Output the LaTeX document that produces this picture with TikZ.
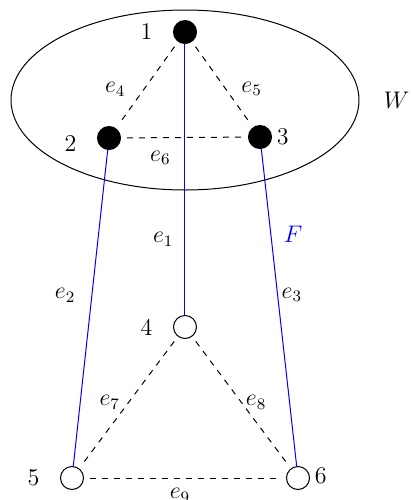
\documentclass[tikz,border=0pt]{standalone}
\usepackage{amsmath,amssymb}
\usepackage{xcolor}
\usepackage{tikz}
\usetikzlibrary{arrows.meta,positioning,calc,shapes.geometric}

\begin{document}
\begin{tikzpicture}[x=0.5pt,y=-0.5pt,line width=0.5pt,
 every node/.style={font=\fontsize{12}{14}\selectfont},
 fullv/.style={circle,draw,fill=black,minimum size=11.5pt,inner sep=0pt},
 openv/.style={circle,draw,fill=white,minimum size=11.5pt,inner sep=0pt},
 vlbl/.style={inner sep=1pt},
 elbl/.style={inner sep=1pt,text=black},
 dsh/.style={dashed,shorten <=3pt,shorten >=3pt},
 blu/.style={draw=blue}]
\useasboundingbox (0,0) rectangle (411,500);
\node[draw,ellipse,minimum width=174pt,minimum height=90pt,inner sep=0pt] (wset) at (185,100) {};
\node[vlbl,right=11pt of wset] (wlbl) {$W$};
\node[fullv] (v1) at (185,32) {};
\node[fullv] (v2) at (109,138) {};
\node[fullv] (v3) at (260,137) {};
\node[openv] (v4) at (185,327) {};
\node[openv] (v5) at (72,478) {};
\node[openv] (v6) at (298,478) {};
\node[vlbl,left=9pt of v1] (l1) {1};
\node[vlbl,left=9pt of v2,yshift=-3pt] (l2) {2};
\node[vlbl,right=1.2pt of v3] (l3) {3};
\node[vlbl,left=9pt of v4] (l4) {4};
\node[vlbl,left=9pt of v5] (l5) {5};
\node[vlbl,right=1.2pt of v6,yshift=1pt] (l6) {6};
\draw[dsh] (v1)--(v2) node[elbl,pos=.55,left=8pt] {$e_4$};
\draw[dsh] (v1)--(v3) node[elbl,pos=.55,right=6.7pt] {$e_5$};
\draw[dsh] (v2)--(v3) node[elbl,pos=.31,below=5.4pt] {$e_6$};
\draw[blu] (v1)--(v4) node[elbl,pos=.72,left=4.5pt] {$e_1$};
\draw[blu] (v2)--(v5) node[elbl,pos=.46,left=7pt] {$e_2$};
\draw[blu] (v3)--(v6) node[elbl,pos=.46,right=0.8pt] {$e_3$}
 node[elbl,pos=.27,right=5.2pt,text=blue] {$F$};
\draw[dsh] (v4)--(v5) node[elbl,midway,left=3pt] {$e_7$};
\draw[dsh] (v4)--(v6) node[elbl,midway,right=1pt] {$e_8$};
\draw[dsh] (v5)--(v6) node[elbl,midway,below=3.9pt,xshift=-2.5pt] {$e_9$};
\end{tikzpicture}
\end{document}
